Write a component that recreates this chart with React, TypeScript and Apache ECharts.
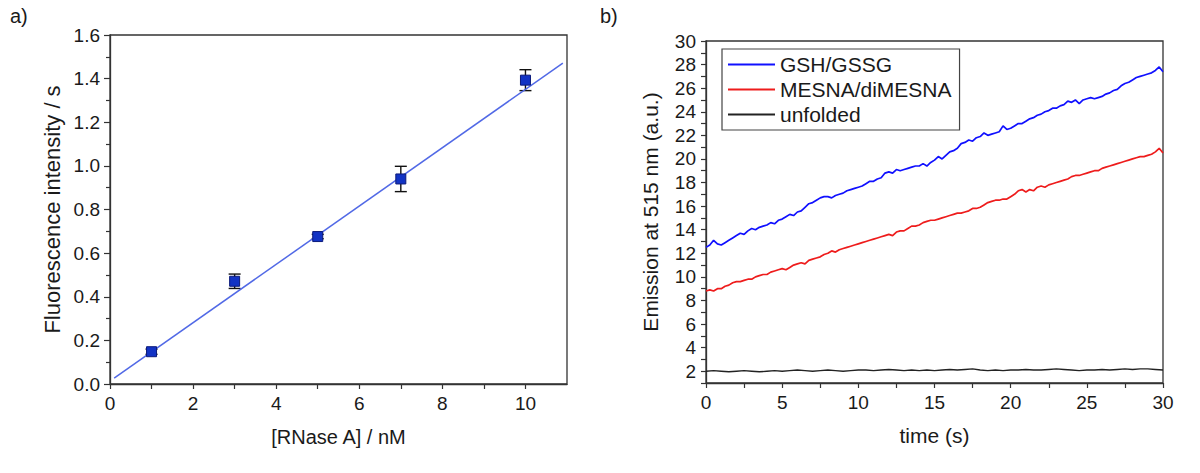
import React, { useEffect, useRef } from "react";
import * as echarts from "echarts";

// ---------- Panel a) ----------
const RNASE_CONC = [1, 3, 5, 7, 10];
const FLUOR = [0.148, 0.471, 0.676, 0.94, 1.393];
const FLUOR_ERR = [0.012, 0.033, 0.01, 0.058, 0.048];
const FIT_X = [0.1, 10.9];
const FIT_Y = [0.027, 1.471];
const A_X_LABELS = [0, 2, 4, 6, 8, 10];
const A_X_TICKS = [0, 1, 2, 3, 4, 5, 6, 7, 8, 9, 10];

// ---------- Panel b) ----------
const B_STEP = 0.25; // s between samples of the coloured traces
const GSH = [
  12.5, 12.7, 13.1, 12.8, 12.7, 12.9, 13.1, 13.3, 13.5, 13.7, 13.6, 13.9,
  14.1, 14.0, 14.2, 14.3, 14.4, 14.6, 14.5, 14.8, 14.9, 15.1, 15.3, 15.2,
  15.5, 15.6, 15.9, 16.2, 16.3, 16.5, 16.7, 16.8, 16.8, 16.7, 16.9, 17.0,
  17.1, 17.3, 17.4, 17.5, 17.6, 17.7, 17.9, 18.1, 18.1, 18.3, 18.4, 18.8,
  18.9, 18.8, 19.1, 19.0, 19.1, 19.2, 19.3, 19.4, 19.4, 19.6, 19.4, 19.7,
  19.9, 20.2, 20.0, 20.3, 20.6, 20.7, 20.9, 21.3, 21.4, 21.6, 21.5, 21.8,
  21.9, 22.2, 22.0, 22.1, 22.2, 22.3, 22.8, 22.5, 22.6, 22.8, 23.0, 23.0,
  23.2, 23.4, 23.5, 23.7, 23.8, 24.0, 24.1, 24.3, 24.3, 24.5, 24.6, 24.9,
  24.8, 25.0, 24.7, 25.0, 25.1, 25.2, 25.1, 25.2, 25.3, 25.5, 25.6, 25.8,
  25.9, 26.2, 26.4, 26.5, 26.7, 26.9, 27.0, 27.1, 27.2, 27.3, 27.5, 27.8,
  27.4,
];
const MESNA = [
  8.8, 8.9, 8.8, 9.0, 9.0, 9.2, 9.3, 9.5, 9.6, 9.6, 9.7, 9.8,
  9.8, 10.0, 10.1, 10.2, 10.2, 10.4, 10.5, 10.6, 10.7, 10.6, 10.8, 11.0,
  11.1, 11.2, 11.1, 11.4, 11.5, 11.6, 11.7, 11.9, 12.0, 12.2, 12.1, 12.3,
  12.4, 12.5, 12.6, 12.7, 12.8, 12.9, 13.0, 13.1, 13.2, 13.3, 13.4, 13.5,
  13.6, 13.5, 13.8, 13.9, 13.9, 14.1, 14.3, 14.3, 14.4, 14.6, 14.7, 14.8,
  14.8, 14.9, 15.0, 15.1, 15.2, 15.3, 15.4, 15.4, 15.5, 15.6, 15.8, 15.8,
  15.9, 16.1, 16.3, 16.4, 16.5, 16.5, 16.6, 16.6, 16.8, 17.0, 17.3, 17.4,
  17.2, 17.4, 17.3, 17.6, 17.7, 17.6, 17.8, 17.9, 18.0, 18.1, 18.2, 18.3,
  18.5, 18.6, 18.6, 18.7, 18.8, 18.9, 19.0, 19.0, 19.2, 19.3, 19.4, 19.5,
  19.6, 19.7, 19.8, 19.9, 20.0, 20.1, 20.2, 20.2, 20.3, 20.4, 20.6, 20.9,
  20.5,
];
const UNFOLDED_STEP = 0.5;
const UNFOLDED = [
  2.0, 2.05, 2.0, 1.95, 2.0, 2.05, 2.0, 1.95, 2.0, 2.05,
  2.0, 2.05, 2.1, 2.05, 2.0, 2.05, 2.1, 2.05, 2.0, 2.05,
  2.1, 2.1, 2.05, 2.1, 2.15, 2.1, 2.05, 2.1, 2.05, 2.1,
  2.05, 2.1, 2.15, 2.1, 2.15, 2.2, 2.1, 2.05, 2.1, 2.05,
  2.1, 2.1, 2.15, 2.1, 2.1, 2.15, 2.2, 2.15, 2.1, 2.05,
  2.1, 2.1, 2.15, 2.1, 2.15, 2.2, 2.15, 2.2, 2.2, 2.15,
  2.1,
];
const B_Y_LABELS = [2, 4, 6, 8, 10, 12, 14, 16, 18, 20, 22, 24, 26, 28, 30];
const B_Y_TICKS = [
  1, 2, 3, 4, 5, 6, 7, 8, 9, 10, 11, 12, 13, 14, 15, 16, 17, 18, 19, 20,
  21, 22, 23, 24, 25, 26, 27, 28, 29, 30,
];
const SERIES_NAMES = ["GSH/GSSG", "MESNA/diMESNA", "unfolded"];

const FONT = "'Liberation Sans', Arial, Helvetica, sans-serif";
const TXT = "#1a1a1a";
const AXC = "#333";

export default function App() {
  const ref = useRef<HTMLDivElement>(null);
  useEffect(() => {
    if (!ref.current) return;
    const chart = echarts.init(ref.current, null, { renderer: "svg" });

    const pairs = (xs: number[], ys: number[]) => xs.map((x, i) => [x, ys[i]]);
    const timed = (ys: number[], step: number) => ys.map((y, i) => [i * step, y]);

    const axisCommon = {
      axisLine: { show: true, lineStyle: { color: AXC, width: 1.3 } },
      axisTick: { show: true, inside: false, length: 5, lineStyle: { color: AXC, width: 1.2 } },
      splitLine: { show: false },
      axisLabel: { color: TXT, fontSize: 19, fontFamily: FONT, margin: 10 },
      nameTextStyle: { color: TXT, fontFamily: FONT },
    };

    const option: any = {
      animation: false,
      backgroundColor: "#fff",
      textStyle: { fontFamily: FONT },
      graphic: [
        { type: "text", left: 10, top: 6, style: { text: "a)", fontSize: 20, fontFamily: FONT, fill: TXT } },
        { type: "text", left: 600, top: 6, style: { text: "b)", fontSize: 20, fontFamily: FONT, fill: TXT } },
      ],
      grid: [
        { left: 110, width: 457, top: 35, height: 349, show: true, borderColor: AXC, borderWidth: 1.3, backgroundColor: "transparent" },
        { left: 706, width: 457, top: 41, height: 342, show: true, borderColor: AXC, borderWidth: 1.3, backgroundColor: "transparent" },
      ],
      xAxis: [
        {
          ...axisCommon,
          type: "value",
          gridIndex: 0,
          min: 0,
          max: 11,
          axisLabel: { ...axisCommon.axisLabel, customValues: A_X_LABELS },
          axisTick: { ...axisCommon.axisTick, customValues: A_X_TICKS },
          name: "[RNase A] / nM",
          nameLocation: "middle",
          nameGap: 43,
          nameTextStyle: { color: TXT, fontFamily: FONT, fontSize: 20 },
        },
        {
          ...axisCommon,
          type: "value",
          gridIndex: 1,
          min: 0,
          max: 30,
          interval: 5,
          minorTick: { show: true, splitNumber: 2, length: 5, lineStyle: { color: AXC, width: 1.2 } },
          minorSplitLine: { show: false },
          name: "time (s)",
          nameLocation: "middle",
          nameGap: 42,
          nameTextStyle: { color: TXT, fontFamily: FONT, fontSize: 21 },
        },
      ],
      yAxis: [
        {
          ...axisCommon,
          type: "value",
          gridIndex: 0,
          min: 0,
          max: 1.6,
          interval: 0.2,
          axisTick: { ...axisCommon.axisTick, length: 6 },
          minorTick: { show: true, splitNumber: 2, length: 4, lineStyle: { color: AXC, width: 1.2 } },
          minorSplitLine: { show: false },
          axisLabel: { ...axisCommon.axisLabel, formatter: (v: number) => v.toFixed(1) },
          name: "Fluorescence intensity / s",
          nameLocation: "middle",
          nameGap: 47,
          nameTextStyle: { color: TXT, fontFamily: FONT, fontSize: 22 },
        },
        {
          ...axisCommon,
          type: "value",
          gridIndex: 1,
          min: 1,
          max: 30,
          axisLabel: { ...axisCommon.axisLabel, customValues: B_Y_LABELS },
          axisTick: { ...axisCommon.axisTick, customValues: B_Y_TICKS },
          name: "Emission at 515 nm (a.u.)",
          nameLocation: "middle",
          nameGap: 45,
          nameTextStyle: { color: TXT, fontFamily: FONT, fontSize: 21 },
        },
      ],
      legend: {
        data: SERIES_NAMES,
        orient: "vertical",
        left: 722,
        top: 49,
        backgroundColor: "#fff",
        borderColor: "#444",
        borderWidth: 1.2,
        padding: [5, 8, 5, 6],
        itemGap: 4,
        itemWidth: 47,
        itemHeight: 2,
        icon: "rect",
        textStyle: { color: TXT, fontSize: 21, fontFamily: FONT },
      },
      series: [
        {
          type: "custom",
          name: "error",
          xAxisIndex: 0,
          yAxisIndex: 0,
          z: 2,
          data: RNASE_CONC.map((x, i) => [x, FLUOR[i] - FLUOR_ERR[i], FLUOR[i] + FLUOR_ERR[i]]),
          renderItem: (params: any, api: any) => {
            const lo = api.coord([api.value(0), api.value(1)]);
            const hi = api.coord([api.value(0), api.value(2)]);
            const w = 6;
            const st = { stroke: "#111", lineWidth: 1.4 };
            return {
              type: "group",
              children: [
                { type: "line", shape: { x1: lo[0], y1: lo[1], x2: hi[0], y2: hi[1] }, style: st },
                { type: "line", shape: { x1: lo[0] - w, y1: lo[1], x2: lo[0] + w, y2: lo[1] }, style: st },
                { type: "line", shape: { x1: hi[0] - w, y1: hi[1], x2: hi[0] + w, y2: hi[1] }, style: st },
              ],
            };
          },
        },
        {
          type: "line",
          name: "fit",
          xAxisIndex: 0,
          yAxisIndex: 0,
          z: 3,
          showSymbol: false,
          symbol: "none",
          data: pairs(FIT_X, FIT_Y),
          lineStyle: { color: "#5169e6", width: 1.5 },
        },
        {
          type: "scatter",
          name: "data",
          xAxisIndex: 0,
          yAxisIndex: 0,
          z: 4,
          symbol: "rect",
          symbolSize: 10,
          data: pairs(RNASE_CONC, FLUOR),
          itemStyle: { color: "#1233c4", borderColor: "#0b1a7a", borderWidth: 1, opacity: 1 },
        },
        {
          type: "line",
          name: SERIES_NAMES[0],
          xAxisIndex: 1,
          yAxisIndex: 1,
          showSymbol: false,
          symbol: "none",
          data: timed(GSH, B_STEP),
          color: "#1010ff",
          lineStyle: { color: "#1010ff", width: 1.7 },
        },
        {
          type: "line",
          name: SERIES_NAMES[1],
          xAxisIndex: 1,
          yAxisIndex: 1,
          showSymbol: false,
          symbol: "none",
          data: timed(MESNA, B_STEP),
          color: "#ee1c1c",
          lineStyle: { color: "#ee1c1c", width: 1.7 },
        },
        {
          type: "line",
          name: SERIES_NAMES[2],
          xAxisIndex: 1,
          yAxisIndex: 1,
          showSymbol: false,
          symbol: "none",
          data: timed(UNFOLDED, UNFOLDED_STEP),
          color: "#222",
          lineStyle: { color: "#222", width: 1.4 },
        },
      ],
    };
    chart.setOption(option);
    return () => chart.dispose();
  }, []);

  return (
    <div
      ref={ref}
      style={{ position: "fixed", left: 0, top: 0, width: 1200, height: 473, background: "#fff" }}
    />
  );
}
